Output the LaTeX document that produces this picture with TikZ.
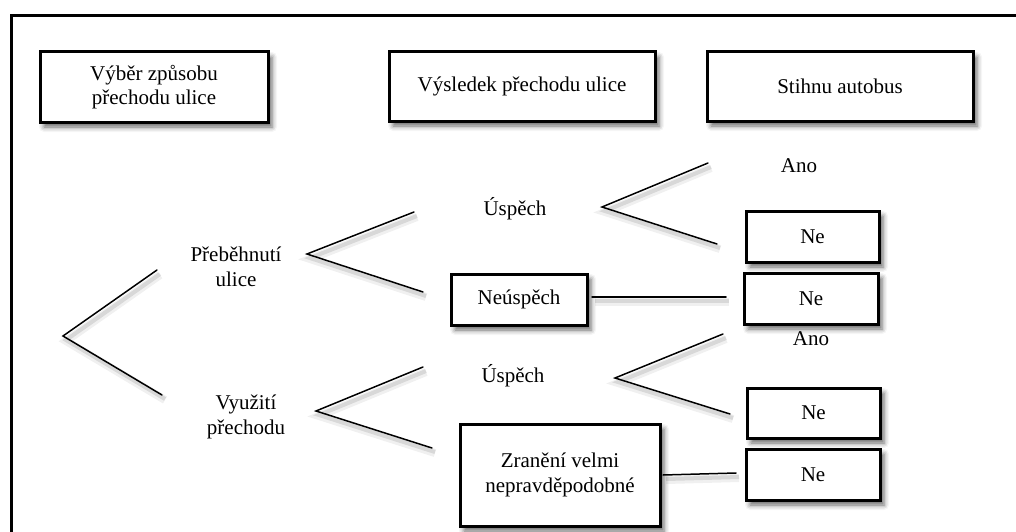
\documentclass[tikz,border=0pt]{standalone}
\usepackage{fontspec}
\setmainfont{Liberation Serif}
\usetikzlibrary{shadows.blur}

\tikzset{
  txt/.style={font=\fontsize{21}{24.5}\selectfont, align=center, inner sep=0pt},
  box/.style={txt, draw=black, line width=3pt, fill=white,
    blur shadow={shadow xshift=4pt, shadow yshift=-5pt,
                 shadow blur radius=5pt, shadow opacity=60}},
  conn/.style={line width=1.5pt, line cap=round,
    preaction={draw=black, opacity=0.06, line width=8pt,
               transform canvas={shift={(3pt,-5pt)}}},
    preaction={draw=black, opacity=0.10, line width=4pt,
               transform canvas={shift={(3pt,-4pt)}}}},
}

\begin{document}
\begin{tikzpicture}[x=1pt,y=-1pt]
\useasboundingbox (0,0) rectangle (1016,532);
\clip (0,0) rectangle (1016,532);

% outer frame (only its top and left edges fall inside the page)
\draw[line width=3pt] (11,560) -- (11,15.5) -- (1040,15.5);

% column headings
\node[box, minimum width=228pt, minimum height=70pt] (h1) at (154,87) {Výběr způsobu\\přechodu ulice};
\node[box, minimum width=266pt, minimum height=69pt] (h2) at (522,86.5) {Výsledek přechodu ulice};
\node[box, minimum width=266pt, minimum height=69pt] (h3) at (840,86.5) {Stihnu autobus};

% first level
\node[txt] (run) at (236,267) {Přeběhnutí\\ulice};
\node[txt] (cross) at (246,417) {Využití\\přechodu};

% second level
\node[txt] (ok1) at (515,209) {Úspěch};
\node[box, minimum width=136pt, minimum height=51pt] (fail) at (519,299.5) {Neúspěch};
\node[txt] (ok2) at (513,376) {Úspěch};
\node[box, minimum width=200pt, minimum height=102pt] (hurt) at (560,475) {Zranění velmi\\nepravděpodobné};

% third level
\node[txt] (yes1) at (799,166) {Ano};
\node[box, minimum width=133pt, minimum height=51pt] (no1) at (812.5,236.5) {Ne};
\node[box, minimum width=134pt, minimum height=51pt] (no2) at (811,298.5) {Ne};
\node[txt] (yes2) at (811,339) {Ano};
\node[box, minimum width=133pt, minimum height=50pt] (no3) at (813.5,413) {Ne};
\node[box, minimum width=134pt, minimum height=51pt] (no4) at (813,474.5) {Ne};

% branch points and free ends
\coordinate (r0) at (63,336);
\coordinate (r1) at (157,270);
\coordinate (r2) at (162,395);
\coordinate (p0) at (307,254);
\coordinate (p1) at (414,212);
\coordinate (p2) at (423,292);
\coordinate (u0) at (602,207);
\coordinate (u1) at (708,163);
\coordinate (u2) at (717,244);
\coordinate (n0) at (592,297);
\coordinate (n1) at (726,297);
\coordinate (v0) at (316,411);
\coordinate (v1) at (423,367);
\coordinate (v2) at (432,448);
\coordinate (w0) at (615,378);
\coordinate (w1) at (723,334);
\coordinate (w2) at (730,414);
\coordinate (z0) at (663,475);
\coordinate (z1) at (736,473);

% branches
\draw[conn] (r1) -- (r0) -- (r2);
\draw[conn] (p1) -- (p0) -- (p2);
\draw[conn] (u1) -- (u0) -- (u2);
\draw[conn] (n0) -- (n1);
\draw[conn] (v1) -- (v0) -- (v2);
\draw[conn] (w1) -- (w0) -- (w2);
\draw[conn] (z0) -- (z1);
\end{tikzpicture}
\end{document}
